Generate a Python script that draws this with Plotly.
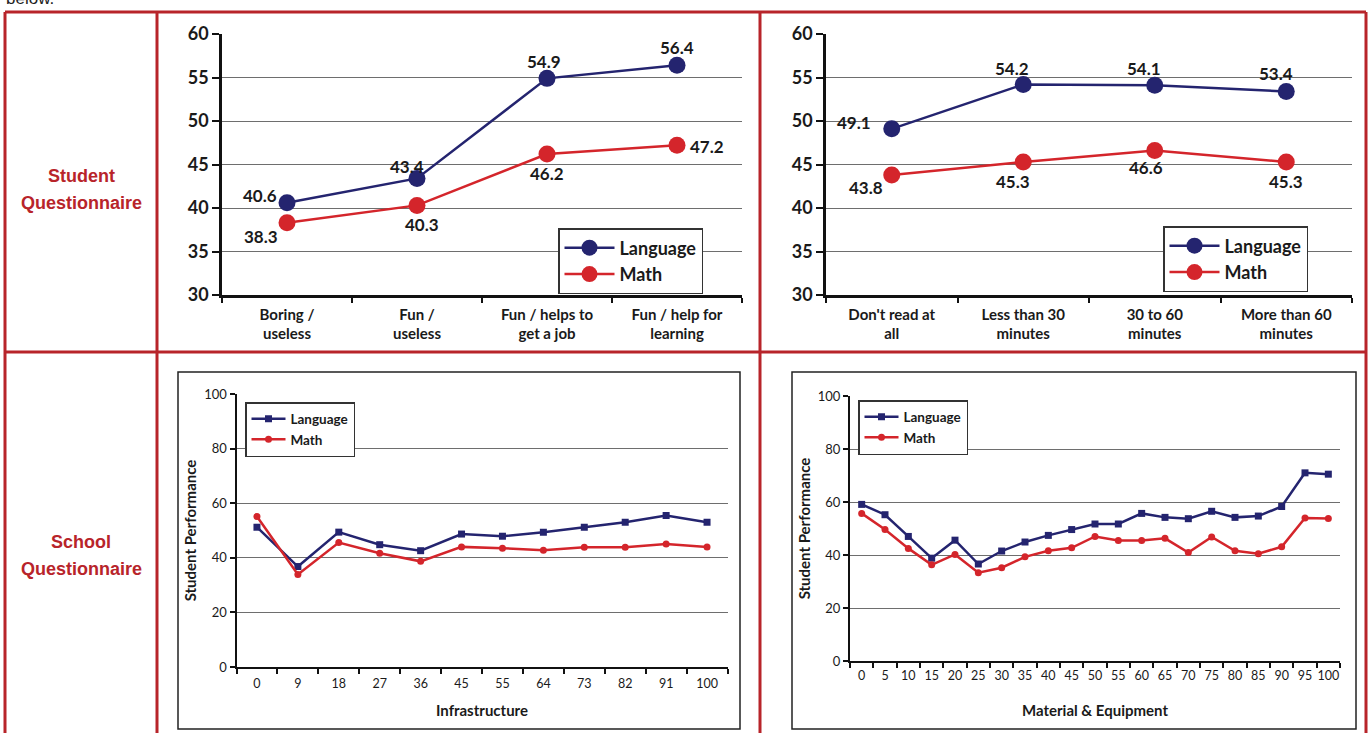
import plotly.graph_objects as go

W, H = 1370, 733

# ---------------- Data ----------------
attitude_cats = ["Boring /<br>useless", "Fun /<br>useless", "Fun / helps to<br>get a job", "Fun / help for<br>learning"]
attitude_lang = [40.6, 43.4, 54.9, 56.4]
attitude_math = [38.3, 40.3, 46.2, 47.2]

reading_cats = ["Don't read at<br>all", "Less than 30<br>minutes", "30 to 60<br>minutes", "More than 60<br>minutes"]
reading_lang = [49.1, 54.2, 54.1, 53.4]
reading_math = [43.8, 45.3, 46.6, 45.3]

infra_cats = ["0", "9", "18", "27", "36", "45", "55", "64", "73", "82", "91", "100"]
infra_lang = [51.2, 36.8, 49.4, 44.8, 42.6, 48.7, 47.9, 49.4, 51.2, 53.0, 55.5, 53.0]
infra_math = [55.1, 33.9, 45.6, 41.7, 38.7, 44.0, 43.5, 42.8, 43.9, 43.9, 45.1, 44.0]

mat_cats = ["0", "5", "10", "15", "20", "25", "30", "35", "40", "45", "50",
            "55", "60", "65", "70", "75", "80", "85", "90", "95", "100"]
mat_lang = [59.1, 55.2, 47.0, 38.8, 45.6, 36.6, 41.5, 44.9, 47.4, 49.6, 51.7,
            51.7, 55.7, 54.2, 53.7, 56.5, 54.2, 54.7, 58.3, 71.0, 70.5]
mat_math = [55.7, 49.6, 42.5, 36.3, 40.2, 33.3, 35.2, 39.3, 41.6, 42.7, 47.0,
            45.5, 45.5, 46.3, 40.9, 46.8, 41.6, 40.5, 43.1, 54.0, 53.8]

# label offsets (px) for the top charts
attitude_lang_off = [(-27, 7), (-10, 12), (-3, 17), (0, 18)]
attitude_math_off = [(-26, -14), (5, -19), (0, -19), (30, -1)]
reading_lang_off = [(-38, 6), (-11, 16), (-11, 17), (-10, 18)]
reading_math_off = [(-26, -13), (-10, -20), (-9, -17), (0, -20)]

NAVY = "#24246f"
RED = "#d4252b"
TABLE_RED = "#b8242a"
FONT = "Lato"

def px_x(p):
    return p / W

def px_y(p):
    return 1 - p / H

fig = go.Figure()

# ---------------- Top charts ----------------
top_specs = [
    ("x", "y", "legend", attitude_cats, attitude_lang, attitude_math, attitude_lang_off, attitude_math_off),
    ("x2", "y2", "legend2", reading_cats, reading_lang, reading_math, reading_lang_off, reading_math_off),
]
annotations = []
for xa, ya, lg, cats, lang, math, loff, moff in top_specs:
    fig.add_trace(go.Scatter(x=cats, y=lang, name="Language", mode="lines+markers",
                             line=dict(color=NAVY, width=2.5),
                             marker=dict(size=17, color=NAVY),
                             xaxis=xa, yaxis=ya, legend=lg))
    fig.add_trace(go.Scatter(x=cats, y=math, name="Math", mode="lines+markers",
                             line=dict(color=RED, width=2.5),
                             marker=dict(size=17, color=RED),
                             xaxis=xa, yaxis=ya, legend=lg))
    for c, v, (dx, dy) in zip(cats, lang, loff):
        annotations.append(dict(x=c, y=v, xref=xa, yref=ya, text=f"<b>{v}</b>",
                                showarrow=False, xshift=dx, yshift=dy,
                                font=dict(family=FONT, size=17, color="#1a1a1a")))
    for c, v, (dx, dy) in zip(cats, math, moff):
        annotations.append(dict(x=c, y=v, xref=xa, yref=ya, text=f"<b>{v}</b>",
                                showarrow=False, xshift=dx, yshift=dy,
                                font=dict(family=FONT, size=17, color="#1a1a1a")))

# ---------------- Bottom charts ----------------
bottom_specs = [
    ("x3", "y3", "legend3", infra_cats, infra_lang, infra_math),
    ("x4", "y4", "legend4", mat_cats, mat_lang, mat_math),
]
for xa, ya, lg, cats, lang, math in bottom_specs:
    fig.add_trace(go.Scatter(x=cats, y=lang, name="Language", mode="lines+markers",
                             line=dict(color=NAVY, width=2.5),
                             marker=dict(size=7, color=NAVY, symbol="square"),
                             xaxis=xa, yaxis=ya, legend=lg))
    fig.add_trace(go.Scatter(x=cats, y=math, name="Math", mode="lines+markers",
                             line=dict(color=RED, width=2.5),
                             marker=dict(size=7, color=RED, symbol="circle"),
                             xaxis=xa, yaxis=ya, legend=lg))

top_x_common = dict(type="category", range=[-0.5, 3.5], showline=True, linecolor="#111",
                    linewidth=2.5, ticks="outside", tickson="boundaries", ticklen=5,
                    tickcolor="#111", tickwidth=1.5, showgrid=False, ticklabelstandoff=4,
                    automargin=False,
                    tickfont=dict(family=FONT, size=15, color="#1a1a1a", weight="bold"))
top_y_common = dict(range=[30, 60], dtick=5, showline=True, linecolor="#111", linewidth=2.5,
                    ticks="outside", ticklen=7, tickcolor="#111", tickwidth=2,
                    showgrid=True, gridcolor="#6e6e6e", gridwidth=1.3, zeroline=False,
                    automargin=False,
                    tickfont=dict(family=FONT, size=18, color="#1a1a1a", weight="bold"))

bot_x_common = dict(type="category", showline=True, linecolor="#111", linewidth=2,
                    ticks="outside", tickson="boundaries", ticklen=5, tickcolor="#111",
                    tickwidth=1.5, showgrid=False, tickangle=0, automargin=False,
                    tickfont=dict(family=FONT, size=12.5, color="#1a1a1a"))
bot_title_font = dict(family=FONT, size=15, color="#1a1a1a", weight="bold")
bot_y_common = dict(range=[0, 100], dtick=20, showline=True, linecolor="#111", linewidth=2,
                    ticks="outside", ticklen=5, tickcolor="#111", tickwidth=1.5,
                    showgrid=True, gridcolor="#6e6e6e", gridwidth=1.2, zeroline=False,
                    automargin=False,
                    tickfont=dict(family=FONT, size=13, color="#1a1a1a"),
                    title=dict(text="Student Performance", font=bot_title_font, standoff=4))

layout = dict(
    width=W, height=H, margin=dict(l=0, r=0, t=0, b=0, pad=0, autoexpand=False),
    paper_bgcolor="white", plot_bgcolor="white", showlegend=True,
    xaxis=dict(domain=[px_x(222), px_x(742)], anchor="y", **top_x_common),
    yaxis=dict(domain=[px_y(295), px_y(34)], anchor="x", **top_y_common),
    xaxis2=dict(domain=[px_x(826), px_x(1352)], anchor="y2", **top_x_common),
    yaxis2=dict(domain=[px_y(295), px_y(34)], anchor="x2", **top_y_common),
    xaxis3=dict(domain=[px_x(236.5), px_x(727.5)], anchor="y3", range=[-0.5, 11.5],
                title=dict(text="Infrastructure", font=bot_title_font, standoff=15),
                ticklabelstandoff=4, **bot_x_common),
    yaxis3=dict(domain=[px_y(667), px_y(394)], anchor="x3", **bot_y_common),
    xaxis4=dict(domain=[px_x(850), px_x(1340)], anchor="y4", range=[-0.5, 20.5],
                title=dict(text="Material & Equipment", font=bot_title_font, standoff=23),
                ticklabelstandoff=2, **bot_x_common),
    yaxis4=dict(domain=[px_y(661), px_y(396)], anchor="x4", **bot_y_common),
)

big_leg = dict(bgcolor="white", bordercolor="#333", borderwidth=1.5,
               font=dict(family=FONT, size=18, color="#1a1a1a", weight="bold"),
               xanchor="left", yanchor="top", tracegroupgap=0, itemwidth=50)
small_leg = dict(bgcolor="white", bordercolor="#333", borderwidth=1.5,
                 font=dict(family=FONT, size=13.5, color="#1a1a1a", weight="bold"),
                 xanchor="left", yanchor="top", tracegroupgap=0, itemwidth=34)
layout["legend"] = dict(x=px_x(558), y=px_y(228), **big_leg)
layout["legend2"] = dict(x=px_x(1163), y=px_y(226), **big_leg)
layout["legend3"] = dict(x=px_x(245), y=px_y(402), **small_leg)
layout["legend4"] = dict(x=px_x(858), y=px_y(400), **small_leg)

fig.update_layout(**layout)

# ---------------- Table frame & boxes ----------------
shapes = []
line_red = dict(color=TABLE_RED, width=3)
for (x0, y0, x1, y1) in [
    (5, 12, 1366, 12),      # top
    (5, 12, 5, 740),        # left
    (157, 12, 157, 740),    # divider 1
    (760, 12, 760, 740),    # divider 2
    (1366, 12, 1366, 740),  # right
    (5, 352, 1366, 352),    # row divider
]:
    shapes.append(dict(type="line", xref="paper", yref="paper",
                       x0=px_x(x0), y0=px_y(y0), x1=px_x(x1), y1=px_y(y1), line=line_red))
for (x0, x1) in [(178, 740), (792, 1356)]:
    shapes.append(dict(type="rect", xref="paper", yref="paper",
                       x0=px_x(x0), y0=px_y(729), x1=px_x(x1), y1=px_y(372),
                       line=dict(color="#222", width=1.5), layer="below"))
fig.update_layout(shapes=shapes)

label_font = dict(family="Liberation Sans, Arial", size=18, color=TABLE_RED, weight="bold")
for txt, yy in [("Student", 176), ("Questionnaire", 203), ("School", 542), ("Questionnaire", 569)]:
    annotations.append(dict(x=px_x(81), y=px_y(yy), xref="paper", yref="paper", showarrow=False,
                            xanchor="center", yanchor="middle", text=txt, font=label_font))
annotations.append(dict(x=px_x(4), y=px_y(-1), xref="paper", yref="paper", showarrow=False,
                        xanchor="left", yanchor="middle", text="below.",
                        font=dict(family="Liberation Sans, Arial", size=17, color="#222")))
fig.update_layout(annotations=annotations)

fig.write_html(
    "out.html",
    config={"displayModeBar": False},
    post_script=(
        "document.body.style.margin='0';document.body.style.overflow='hidden';"
        "var d=document.getElementById('{plot_id}');"
        "d.style.position='fixed';d.style.top='0px';d.style.left='0px';"
    ),
)
